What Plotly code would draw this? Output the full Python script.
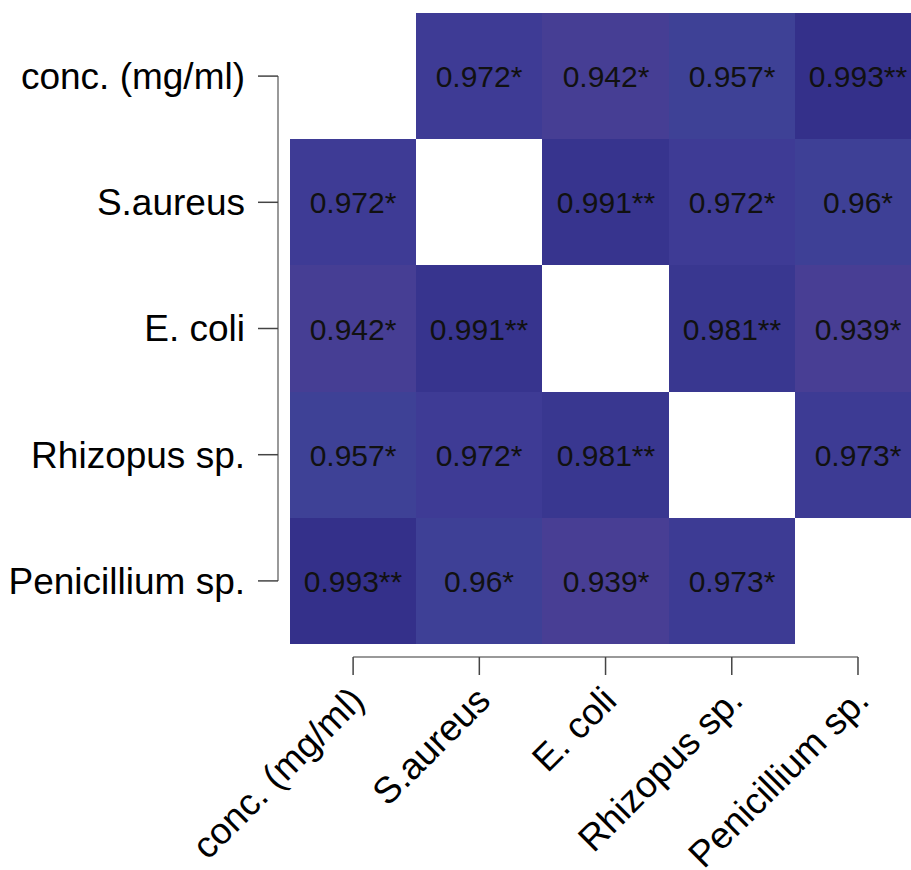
import plotly.graph_objects as go

labels = ["conc. (mg/ml)", "S.aureus", "E. coli", "Rhizopus sp.", "Penicillium sp."]
values = [
    [None, 0.972, 0.942, 0.957, 0.993],
    [0.972, None, 0.991, 0.972, 0.96],
    [0.942, 0.991, None, 0.981, 0.939],
    [0.957, 0.972, 0.981, None, 0.973],
    [0.993, 0.96, 0.939, 0.973, None],
]
stars = [
    ["", "*", "*", "*", "**"],
    ["*", "", "**", "*", "*"],
    ["*", "**", "", "**", "*"],
    ["*", "*", "**", "", "*"],
    ["**", "*", "*", "*", ""],
]

n = len(labels)
idx = list(range(n))
text = [[("" if v is None else f"{v:g}{s}") for v, s in zip(rv, rs)] for rv, rs in zip(values, stars)]

colorscale = [
    [0.0, "#483e94"],
    [0.06, "#463e94"],
    [0.33, "#3e4196"],
    [0.39, "#3e4096"],
    [0.61, "#3e3b95"],
    [0.78, "#393790"],
    [0.96, "#37348e"],
    [1.0, "#34308a"],
]

fig = go.Figure(go.Heatmap(
    z=values, x=idx, y=idx, text=text,
    texttemplate="%{text}",
    textfont=dict(family="Liberation Sans, Arial, sans-serif", size=30, color="#111111"),
    colorscale=colorscale, zmin=0.939, zmax=0.993, showscale=False,
    hoverinfo="skip",
))

W, H = 911, 870
L, R, T, B = 290, 0, 13, 226
fig.update_layout(
    width=W, height=H,
    margin=dict(l=L, r=R, t=T, b=B, pad=0, autoexpand=False),
    paper_bgcolor="white", plot_bgcolor="white",
    font=dict(family="Liberation Sans, Arial, sans-serif", size=36, color="black"),
    showlegend=False,
)
fig.update_xaxes(range=[-0.5, 4.42], tickvals=idx, ticktext=labels, tickangle=-45,
                 showgrid=False, zeroline=False, showline=False, ticks="", automargin=False,
                 ticklabelstandoff=26, tickfont=dict(size=37))
fig.update_yaxes(range=[4.5, -0.5], tickvals=idx, ticktext=labels,
                 showgrid=False, zeroline=False, showline=False, ticks="", automargin=False,
                 ticklabelstandoff=44, tickfont=dict(size=37))

# R-style offset axes: axis line from first to last tick, ticks pointing out
plot_w = W - L - R
plot_h = H - T - B
yax_x = -12 / plot_w
ytick_x = -32 / plot_w
xax_y = -13 / plot_h
xtick_y = -31 / plot_h
axline = dict(color="#777777", width=1.5)
tickline = dict(color="#444444", width=1.5)
fig.add_shape(type="line", xref="paper", yref="y", x0=yax_x, x1=yax_x, y0=idx[0], y1=idx[-1], line=axline)
fig.add_shape(type="line", xref="x", yref="paper", x0=idx[0], x1=idx[-1], y0=xax_y, y1=xax_y, line=axline)
for i in idx:
    fig.add_shape(type="line", xref="paper", yref="y", x0=ytick_x, x1=yax_x, y0=i, y1=i, line=tickline)
    fig.add_shape(type="line", xref="x", yref="paper", x0=i, x1=i, y0=xtick_y, y1=xax_y, line=tickline)

fig.write_html(
    "out.html",
    config={"displayModeBar": False},
    post_script="document.body.style.margin='0';document.body.style.overflow='hidden';",
)
